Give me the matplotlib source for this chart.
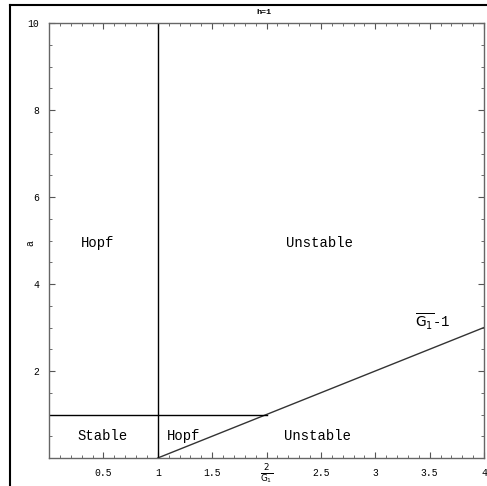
import matplotlib
matplotlib.use("Agg")
import matplotlib.pyplot as plt
from matplotlib.lines import Line2D
import numpy as np

# Data
boundary_x = [1, 4]          # Hopf/Unstable boundary: a = 2/G1 - 1
boundary_y = [0, 3]
horiz_x = [0, 2]             # a = 1 line
horiz_y = [1, 1]
vert_x = [1, 1]              # 2/G1 = 1 line
vert_y = [0, 10]
region_labels = ["Hopf", "Unstable", "Stable", "Hopf", "Unstable"]
region_x = [0.45, 2.49, 0.49, 1.24, 2.47]
region_y = [4.95, 4.95, 0.5, 0.5, 0.5]
xticks = [0.5, 1, 1.5, 2, 2.5, 3, 3.5, 4]
xticklabels = ["0.5", "1", "1.5", "", "2.5", "3", "3.5", "4"]
yticks = [2, 4, 6, 8, 10]
yticklabels = ["2", "4", "6", "8", "10"]

mono = "Liberation Mono"

fig = plt.figure(figsize=(4.87, 4.86), dpi=100)
ax = fig.add_axes([49/487, 1-458/486, 435/487, 435/486])
ax.set_xlim(0, 4)
ax.set_ylim(0, 10)

ax.plot(boundary_x, boundary_y, color="#333333", lw=1.0)
ax.plot(horiz_x, horiz_y, color="black", lw=1.0)
ax.plot(vert_x, vert_y, color="black", lw=1.0)

for t, x, y in zip(region_labels, region_x, region_y):
    ax.text(x, y, t, family=mono, fontsize=10, ha="center", va="center")

ax.text(3.53, 3.13, r"$\overline{\mathrm{G_1}}$-1", family=mono, fontsize=10,
        ha="center", va="center")

ax.set_xticks(xticks)
ax.set_xticklabels(xticklabels, family=mono, fontsize=7)
ax.set_yticks(yticks)
ax.set_yticklabels(yticklabels, family=mono, fontsize=7)
ax.set_xticks(np.arange(0, 4.01, 0.1), minor=True)
ax.set_yticks(np.arange(0, 10.01, 0.5), minor=True)
ax.tick_params(which="both", direction="in", top=True, right=True,
               color="#555555")
ax.tick_params(which="major", length=4, width=0.8, pad=7)
ax.tick_params(which="minor", length=2, width=0.6)
for s in ax.spines.values():
    s.set_color("#666666")
    s.set_linewidth(1.0)

# x-axis label: fraction 2/G1 under the axis at x = 2
ax.text(2.0, -0.38, r"$\frac{2}{\mathrm{G_1}}$", fontsize=9, ha="center",
        va="center", transform=ax.transData, clip_on=False)
ax.text(-0.17, 4.95, "a", family=mono, fontsize=7, rotation=90,
        ha="center", va="center")
fig.text(264/487, 1-12/486, "h=1", family=mono, fontsize=6, ha="center",
         va="center", weight="bold")

# outer frame
fig.add_artist(Line2D([10/487, 10/487], [0, 1-5/486], color="black", lw=1.5,
                      transform=fig.transFigure))
fig.add_artist(Line2D([10/487, 1], [1-5/486, 1-5/486], color="black", lw=1.5,
                      transform=fig.transFigure))

fig.savefig("out.png", dpi=100)
